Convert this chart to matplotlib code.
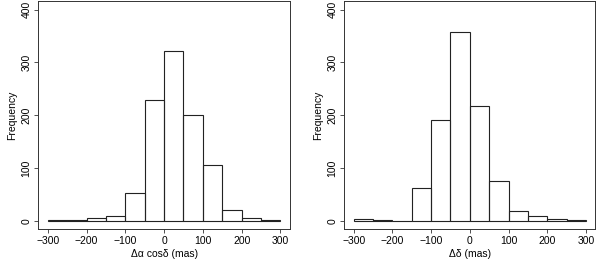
import matplotlib
matplotlib.use("Agg")
import matplotlib.pyplot as plt
import numpy as np

bin_edges = [-300, -250, -200, -150, -100, -50, 0, 50, 100, 150, 200, 250, 300]
counts_ra = [1, 1, 5, 9, 53, 228, 321, 201, 106, 20, 5, 1.5]
counts_dec = [3, 1, 0, 61, 191, 358, 218, 76, 19, 9, 3, 1]
xticks = [-300, -200, -100, 0, 100, 200, 300]
yticks = [0, 100, 200, 300, 400]
xlabels = ["Δα cosδ (mas)", "Δδ (mas)"]
ylabel = "Frequency"

plt.rcParams['font.family'] = ['Liberation Sans', 'DejaVu Sans']

fig = plt.figure(figsize=(6, 2.67), dpi=100)
ax1 = fig.add_axes([0.064, 0.142, 0.419, 0.854])
ax2 = fig.add_axes([0.574, 0.142, 0.418, 0.854])

for ax, counts, xl in [(ax1, counts_ra, xlabels[0]), (ax2, counts_dec, xlabels[1])]:
    edges = np.array(bin_edges)
    widths = np.diff(edges)
    ax.bar(edges[:-1], counts, width=widths, align='edge', fill=False,
           edgecolor='#222222', linewidth=0.8)
    ax.set_xlim(-324, 324)
    ax.set_ylim(-16, 416)
    ax.set_xticks(xticks)
    ax.set_yticks(yticks)
    ax.set_yticklabels([str(v) for v in yticks], rotation=90, va='center')
    ax.tick_params(labelsize=7.5, length=3, width=0.6, color='#333333', pad=2)
    ax.tick_params(axis='y', pad=2)
    for s in ax.spines.values():
        s.set_linewidth(0.7)
        s.set_color('#333333')
    ax.set_xlabel(xl, fontsize=7.5, labelpad=2)
    ax.set_ylabel(ylabel, fontsize=7.5, labelpad=3)

fig.savefig("out.png", dpi=100)
